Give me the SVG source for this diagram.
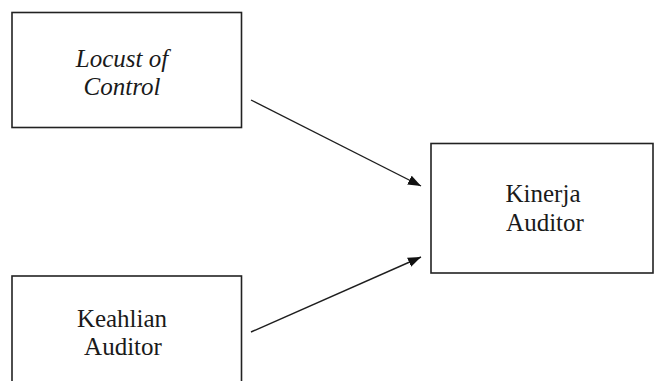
<svg xmlns="http://www.w3.org/2000/svg" width="654" height="381" viewBox="0 0 654 381">
<defs>
<style>
.box{fill:#fff;stroke:#222;stroke-width:1.6}
.t{font-family:"Liberation Serif","Times New Roman",serif;font-size:25px;fill:#1a1a1a;text-anchor:middle}
.it{font-style:italic}
.edge{stroke:#1e1e1e;stroke-width:1.4;fill:none;marker-end:url(#ah)}
</style>
<marker id="ah" markerWidth="14" markerHeight="10" refX="13" refY="5" orient="auto" markerUnits="userSpaceOnUse">
<path d="M0,0 L13,5 L0,10 Z" fill="#111"/>
</marker>
</defs>
<rect width="654" height="381" fill="#fff"/>
<g id="locus">
<rect class="box" x="12" y="12.5" width="229.5" height="115"/>
<text class="t it" x="122" y="67">Locust of</text>
<text class="t it" x="122" y="95">Control</text>
</g>
<g id="kinerja">
<rect class="box" x="431" y="143.5" width="222" height="129.5"/>
<text class="t" x="543" y="202">Kinerja</text>
<text class="t" x="545" y="231">Auditor</text>
</g>
<g id="keahlian">
<rect class="box" x="12" y="276" width="229.5" height="120"/>
<text class="t" x="122" y="327">Keahlian</text>
<text class="t" x="123" y="355">Auditor</text>
</g>
<g id="edges">
<line class="edge" x1="251" y1="100" x2="421" y2="186"/>
<line class="edge" x1="251" y1="332" x2="421" y2="257"/>
</g>
</svg>
